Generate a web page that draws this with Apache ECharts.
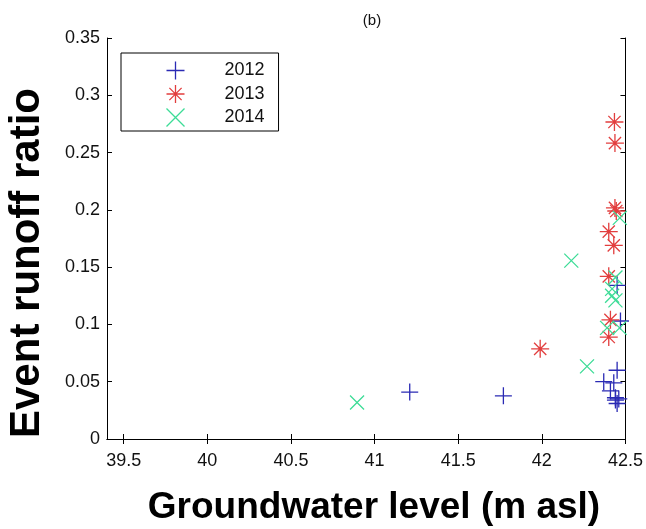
<!DOCTYPE html>
<html><head><meta charset="utf-8">
<script src="https://cdn.jsdelivr.net/npm/echarts@6/dist/echarts.min.js"></script>
<style>html,body{margin:0;padding:0;background:#fff}#c{width:646px;height:529px}</style>
</head><body><div id="c"></div>
<script>
const xTicks = [39.5, 40, 40.5, 41, 41.5, 42, 42.5];
const yTicks = [0, 0.05, 0.1, 0.15, 0.2, 0.25, 0.3, 0.35];
const seriesNames = ['2012', '2013', '2014'];
const data2012 = [[41.21,0.041],[41.77,0.0377],[42.37,0.050],[42.41,0.042],[42.43,0.049],[42.45,0.060],[42.44,0.036],[42.46,0.035],[42.45,0.031],[42.44,0.034],[42.45,0.134],[42.47,0.103]];
const data2013 = [[41.99,0.0787],[42.434,0.2767],[42.437,0.2583],[42.437,0.2017],[42.445,0.199],[42.40,0.181],[42.43,0.169],[42.40,0.142],[42.41,0.104],[42.40,0.089]];
const data2014 = [[40.895,0.0318],[42.176,0.1557],[42.27,0.0634],[42.466,0.193],[42.44,0.141],[42.42,0.131],[42.42,0.125],[42.44,0.121],[42.465,0.097],[42.39,0.097]];
const titleText = '(b)';
const xTitle = 'Groundwater level (m asl)';
const yTitle = 'Event runoff ratio';

const colors = ['#2a2ab4', '#e23e3e', '#3ddc97'];
const PLUS = 'path://M5,0L5,10M0,5L10,5';
const STAR = 'path://M5,0L5,10M0,5L10,5M1.6,1.6L8.4,8.4M1.6,8.4L8.4,1.6';
const CROSS = 'path://M0,0L10,10M0,10L10,0';
const symbols = [PLUS, STAR, CROSS];
const sizes = [17, 18, 14];
const datasets = [data2012, data2013, data2014];

const chart = echarts.init(document.getElementById('c'), null, {renderer: 'canvas'});
const font = 'Liberation Sans, Arial, sans-serif';
const axisCommon = {
  axisLine: {show: true, lineStyle: {color: '#000', width: 1}},
  splitLine: {show: false}
};
chart.setOption({
  animation: false,
  backgroundColor: '#fff',
  title: {text: titleText, left: 367, top: 8, textAlign: 'center',
    textStyle: {fontFamily: font, fontSize: 15, fontWeight: 'normal', color: '#111'}},
  grid: {left: 107, right: 19, top: 38, bottom: 90},
  legend: {
    orient: 'vertical', left: 121, top: 53,
    padding: [6, 14, 2, 43], itemGap: 0.5, itemWidth: 88, itemHeight: 18,
    borderColor: '#000', borderWidth: 1, backgroundColor: '#fff',
    textStyle: {fontFamily: font, fontSize: 18, color: '#111', lineHeight: 18},
    data: seriesNames.map((n, i) => ({name: n, icon: symbols[i],
      itemStyle: {color: 'none', borderColor: colors[i], borderWidth: 1.3}}))
  },
  xAxis: [
    Object.assign({type: 'value', min: 39.4, max: 42.5, position: 'bottom',
      axisTick: {show: true, inside: true, length: 5, customValues: xTicks, lineStyle: {color: '#000'}},
      axisLabel: {show: true, customValues: xTicks, margin: 13, fontFamily: font, fontSize: 18, color: '#111'}}, axisCommon),
    Object.assign({type: 'value', min: 39.4, max: 42.5, position: 'top',
      axisTick: {show: true, inside: true, length: 5, customValues: xTicks, lineStyle: {color: '#000'}},
      axisLabel: {show: false}}, axisCommon)
  ],
  yAxis: [
    Object.assign({type: 'value', min: 0, max: 0.35, interval: 0.05, position: 'left',
      axisTick: {show: true, inside: true, length: 5, lineStyle: {color: '#000'}},
      axisLabel: {show: true, margin: 7, fontFamily: font, fontSize: 18, color: '#111'}}, axisCommon),
    Object.assign({type: 'value', min: 0, max: 0.35, interval: 0.05, position: 'right',
      axisTick: {show: true, inside: true, length: 5, lineStyle: {color: '#000'}},
      axisLabel: {show: false}}, axisCommon)
  ],
  graphic: [
    {type: 'text', x: 374, y: 508, style: {text: xTitle, font: 'bold 37px Liberation Sans, Arial, sans-serif',
      fill: '#000', textAlign: 'center', textVerticalAlign: 'middle'}},
    {type: 'text', x: 27, y: 263, rotation: Math.PI / 2, style: {text: yTitle, font: 'bold 42px Liberation Sans, Arial, sans-serif',
      fill: '#000', textAlign: 'center', textVerticalAlign: 'middle'}}
  ],
  series: seriesNames.map((n, i) => ({
    name: n, type: 'scatter', xAxisIndex: 0, yAxisIndex: 0,
    symbol: symbols[i], symbolSize: sizes[i], symbolKeepAspect: true,
    itemStyle: {color: 'none', borderColor: colors[i], borderWidth: 1.3, opacity: 1},
    emphasis: {disabled: true},
    data: datasets[i]
  }))
});
</script></body></html>
